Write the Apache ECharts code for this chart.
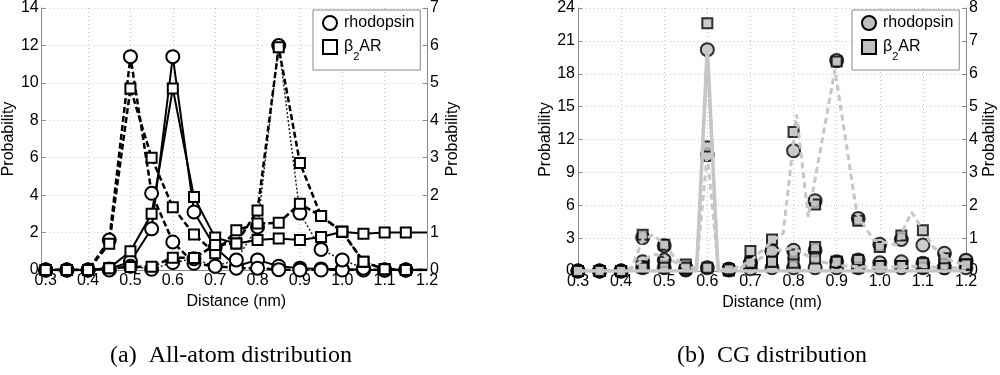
<!DOCTYPE html>
<html><head><meta charset="utf-8">
<script src="https://cdn.jsdelivr.net/npm/echarts@6/dist/echarts.min.js"></script>
<style>html,body{margin:0;padding:0;background:#fff}#c{width:1000px;height:375px}</style>
</head><body><div id="c"></div>
<script>
// ---- shared x bins (nm) ----
const xs = [0.3,0.35,0.4,0.45,0.5,0.55,0.6,0.65,0.7,0.75,0.8,0.85,0.9,0.95,1.0,1.05,1.1,1.15,1.2];
const xTicksLabel = 'Distance (nm)';
const yName = 'Probability';

// ---- (a) all-atom: left axis (0-14) ----
const aaRhoSolid = [0,0,0,0.05,0.45,2.2,11.4,3.1,1.2,0.2,0.54,0.2,0.1,0.06,0.05,0.02,0,0,0];
const aaRhoDash  = [0,0,0,1.6,11.4,4.1,1.5,0.36,0.2,0.1,0.1,0.02,0,0,0,0,0,0,0];
const aaB2Solid  = [0,0,0,0.1,1.0,3.0,9.7,3.9,1.73,1.42,1.6,1.68,1.6,1.76,2.04,1.94,2.0,2.0,2.0];
const aaB2Dash   = [0,0,0,1.4,9.7,6.0,3.35,1.9,0.9,2.12,2.48,2.52,3.54,2.88,2.04,0.44,0.04,0,0];
// ---- (a) all-atom: right axis (0-7) ----
const aaRhoRight = [0,0,0,0,0.1,0.02,0.2,0.3,0.1,0.27,1.15,6.0,1.52,0.55,0.27,0.05,0,0,0];
const aaB2Right  = [0,0,0,0.05,0.08,0.09,0.33,0.32,0.67,0.71,1.59,5.95,2.86,1.44,1.02,0.22,0.02,0,0];

// ---- (b) CG markers: left axis (0-24) ----
const cgRhoS = [0,0,0,0.85,1.0,0.1,20.2,0.1,0.2,0.3,0.3,0.3,0.3,0.3,0.3,0.3,0.3,0.3,0.3];
const cgRhoD = [0,0,0,3.05,2.3,0.3,10.6,0.15,0.75,1.8,1.9,1.9,0.85,1.0,0.75,0.85,0.7,0.3,0.9];
const cgB2S  = [0,0,0,0.4,0.85,0.2,22.6,0.05,0.75,0.85,0.75,1.15,0.85,0.3,0.45,0.45,0.3,0.6,0.6];
const cgB2D  = [0,0,0,3.3,2.4,0.6,11.35,0.1,0.75,0.85,1.5,2.2,0.85,1.0,0.45,0.45,0.7,0.6,0.6];
// ---- (b) CG markers: right axis (0-8) ----
const cgRhoR = [0,0,0,0.1,0.1,0.05,0.1,0.05,0.24,0.61,3.66,2.14,6.4,1.6,0.81,0.96,0.79,0.54,0.33];
const cgB2R  = [0,0,0,0.1,0.1,0.1,0.1,0.05,0.61,0.96,4.23,2.02,6.37,1.53,0.73,1.08,1.24,0.39,0.2];

// ---- (b) CG gray curves ----
const cgSolidX = [0.3,0.575,0.6,0.625,1.2];
const cgSolidY = [0,0,20.5,0,0];                       // left axis
const cgDashLowX = [0.3,0.4,0.425,0.45,0.475,0.5,0.525,0.55,0.575,0.6,0.625,0.65,0.7,0.75,0.8,0.85,0.9,0.95,1.0,1.05,1.1,1.15,1.2];
const cgDashLowY = [0,0,0.3,1.0,1.5,1.4,0.8,0.3,0.3,19.5,0.3,0,0.6,1.8,2.1,1.0,0.5,0.4,0.3,0.4,0.4,0.3,0.3]; // left axis
const cgDashHighX = [0.3,0.4,0.425,0.45,0.475,0.5,0.525,0.55,0.575,0.6,0.625,0.65,0.7,0.75,0.776,0.807,0.834,0.896,0.947,0.985,1.038,1.074,1.124,1.17,1.2];
const cgDashHighY = [0,0,0.1,0.95,1.1,0.8,0.4,0.1,0.1,3.6,0.1,0,0.3,0.9,1.15,4.76,1.64,6.12,1.74,0.94,0.8,1.79,0.73,0.27,0.2]; // right axis

// ---- axis ticks ----
const aaLeftMax = 14, aaLeftStep = 2, aaRightMax = 7, aaRightStep = 1;
const cgLeftMax = 24, cgLeftStep = 3, cgRightMax = 8, cgRightStep = 1;

const F = '"Liberation Sans", Arial, Helvetica, sans-serif';
const SERIF = '"Liberation Serif", "Times New Roman", serif';
const AX = '#8a8a8a';
const GRIDC = '#c4c4c4';

function pairs(xarr, yarr, hideLast) {
  return yarr.map((v, i) => (hideLast && i === yarr.length - 1) ? {value: [xarr[i], v], symbol: 'none'} : [xarr[i], v]);
}

function xAx(gi) {
  return {
    type: 'value', gridIndex: gi, min: 0.3, max: 1.2, interval: 0.1,
    name: xTicksLabel, nameLocation: 'middle', nameGap: 20,
    nameTextStyle: {fontFamily: F, fontSize: 16, color: '#000'},
    axisLine: {show: true, onZero: false, lineStyle: {color: AX, width: 1}},
    axisTick: {show: true, inside: true, length: 4, lineStyle: {color: AX}},
    axisLabel: {margin: 3, color: '#000', fontSize: 16, fontFamily: F, formatter: v => v.toFixed(1)},
    splitLine: {show: true, showMinLine: false, lineStyle: {type: [1, 3], color: GRIDC}}
  };
}
function yAx(gi, max, step, pos, gap, offset, split) {
  return {
    type: 'value', gridIndex: gi, min: 0, max: max, interval: step, position: pos, offset: offset || 0,
    name: yName, nameLocation: 'middle', nameGap: gap, nameRotate: 90,
    nameTextStyle: {fontFamily: F, fontSize: 16, color: '#000'},
    axisLine: {show: true, onZero: false, lineStyle: {color: AX, width: 1}},
    axisTick: {show: true, inside: true, length: 4, lineStyle: {color: AX}},
    axisLabel: {margin: 3, color: '#000', fontSize: 16, fontFamily: F},
    splitLine: {show: split, lineStyle: {type: [1, 3], color: GRIDC}}
  };
}

const whiteMk = {color: '#ffffff', borderColor: '#000', borderWidth: 2};
const grayMk = {color: '#bfbfbf', borderColor: '#000', borderWidth: 2};

function aaLine(name, vals, yIdx, sym, lineStyle) {
  return {
    type: 'line', name: name, xAxisIndex: 0, yAxisIndex: yIdx,
    data: pairs(xs, vals, true),
    symbol: sym === 'circle' ? 'circle' : 'rect',
    symbolSize: sym === 'circle' ? 13 : 10,
    itemStyle: whiteMk, lineStyle: lineStyle,
    animation: false, silent: true, clip: true
  };
}
function cgCurve(name, xarr, yarr, yIdx, type, width) {
  return {
    type: 'line', name: name, xAxisIndex: 1, yAxisIndex: yIdx,
    data: pairs(xarr, yarr, false), symbol: 'none',
    lineStyle: {color: '#c6c6c6', width: width, type: type},
    animation: false, silent: true, clip: true
  };
}
function cgPts(name, vals, yIdx, sym) {
  return {
    type: 'scatter', name: name, xAxisIndex: 1, yAxisIndex: yIdx,
    data: pairs(xs, vals, false),
    symbol: sym === 'circle' ? 'circle' : 'rect',
    symbolSize: sym === 'circle' ? 13 : 10,
    itemStyle: grayMk, animation: false, silent: true
  };
}

const solidL = {color: '#000', width: 2, type: 'solid'};
const dashL = {color: '#000', width: 2.5, type: [6, 3]};
const dotL = {color: '#222', width: 1.5, type: [2, 2]};

const legendRich = {n: {fontSize: 16, fontFamily: F, color: '#000', lineHeight: 18},
                    s: {fontSize: 11, fontFamily: F, color: '#000', lineHeight: 18, verticalAlign: 'bottom', padding: [0, 0, -6, 0]}};
function legendFmt(name) { return name === 'β2AR' ? '{n|β}{s|2}{n|AR}' : '{n|' + name + '}'; }
function mkLegend(left, style) {
  return {
    orient: 'vertical', left: left, top: 10, padding: [5, 6, 8, 9], itemGap: 8,
    itemWidth: 14, itemHeight: 14, backgroundColor: '#fff', borderColor: '#888', borderWidth: 1,
    selectedMode: false, formatter: legendFmt,
    textStyle: {fontSize: 16, fontFamily: F, color: '#000', rich: legendRich, padding: [0, 0, 0, 2]},
    data: [{name: 'rhodopsin', icon: 'circle', itemStyle: style}, {name: 'β2AR', icon: 'rect', itemStyle: style}]
  };
}

const option = {
  backgroundColor: '#fff',
  animation: false,
  grid: [
    {left: 44, right: 573, top: 6, bottom: 105},
    {left: 578, right: 34, top: 6, bottom: 104}
  ],
  xAxis: [xAx(0), xAx(1)],
  yAxis: [
    yAx(0, aaLeftMax, aaLeftStep, 'left', 23, 4, true),
    yAx(0, aaRightMax, aaRightStep, 'right', 18, 0, false),
    yAx(1, cgLeftMax, cgLeftStep, 'left', 24, 0, true),
    yAx(1, cgRightMax, cgRightStep, 'right', 16, 0, false)
  ],
  legend: [mkLegend(313, whiteMk), mkLegend(852, grayMk)],
  series: [
    aaLine('rhodopsin', aaRhoSolid, 0, 'circle', solidL),
    aaLine('rhodopsin', aaRhoDash, 0, 'circle', dashL),
    aaLine('rhodopsin', aaRhoRight, 1, 'circle', dotL),
    aaLine('β2AR', aaB2Solid, 0, 'rect', solidL),
    aaLine('β2AR', aaB2Dash, 0, 'rect', dashL),
    aaLine('β2AR', aaB2Right, 1, 'rect', dashL),
    cgCurve('cg-solid', cgSolidX, cgSolidY, 2, 'solid', 3.5),
    cgCurve('cg-dash-low', cgDashLowX, cgDashLowY, 2, [6, 4], 3),
    cgCurve('cg-dash-high', cgDashHighX, cgDashHighY, 3, [6, 4], 3),
    cgPts('rhodopsin', cgRhoS, 2, 'circle'),
    cgPts('rhodopsin', cgRhoD, 2, 'circle'),
    cgPts('rhodopsin', cgRhoR, 3, 'circle'),
    cgPts('β2AR', cgB2S, 2, 'rect'),
    cgPts('β2AR', cgB2D, 2, 'rect'),
    cgPts('β2AR', cgB2R, 3, 'rect')
  ],
  graphic: [
    {type: 'text', x: 231, y: 356, silent: true,
     style: {text: '(a)\u2002All-atom distribution', fontFamily: SERIF, fontSize: 24, fill: '#000', textAlign: 'center', textVerticalAlign: 'middle'}},
    {type: 'text', x: 772, y: 356, silent: true,
     style: {text: '(b)\u2002CG distribution', fontFamily: SERIF, fontSize: 24, fill: '#000', textAlign: 'center', textVerticalAlign: 'middle'}}
  ]
};

const chart = echarts.init(document.getElementById('c'), null, {renderer: 'canvas'});
chart.setOption(option);
</script></body></html>
